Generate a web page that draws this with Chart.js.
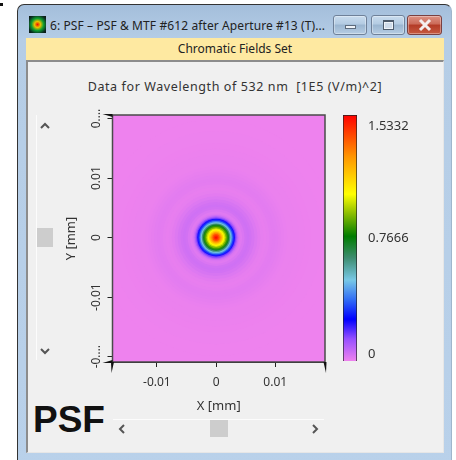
<!DOCTYPE html>
<html>
<head>
<meta charset="utf-8">
<title>PSF</title>
<script src="https://cdn.jsdelivr.net/npm/chart.js@4"></script>
<style>
html, body { margin: 0; padding: 0; background: #fff; }
body { width: 456px; height: 460px; position: relative; overflow: hidden; font-family: "Noto Sans", sans-serif; color: #333; }
.abs { position: absolute; }
#mark { left: 0; top: 3px; width: 3px; height: 3px; background: #111; }
#win { left: 17px; top: 4px; width: 435px; height: 470px; box-sizing: border-box; border: 1px solid #333; border-right-color: #9fb6cc; border-radius: 7px 7px 0 0;
  background: linear-gradient(#a4bedb 0, #b5cde6 34px, #b9d1ea 100%); }
#icon { left: 29px; top: 16px; width: 17px; height: 17px; background: radial-gradient(circle, #f01000 0, #e8c000 25%, #10a030 50%, #0a2a20 80%, #111 100%); }
#caption { left: 50px; top: 17px; font-size: 12px; letter-spacing: 0.1px; line-height: 18px; white-space: nowrap; color: #222; }
.btn { top: 15px; height: 20px; box-sizing: border-box; border: 1px solid #6f8199; border-radius: 3px; background: linear-gradient(#c9dcee 0, #b3cbe2 45%, #9ab5d0 50%, #b6cde3 100%); box-shadow: inset 0 0 0 1px rgba(255,255,255,.35); }
#btnMin { left: 333px; width: 34px; }
#btnMax { left: 371px; width: 34px; }
#btnClose { left: 407px; width: 35px; background: linear-gradient(#dd9183 0, #cb6a58 45%, #b33a26 50%, #c65a40 100%); border-color: #7a4040; }
.glyph { position: absolute; box-sizing: border-box; }
#band { left: 26px; top: 38px; width: 418px; height: 22px; background: #fee9a1; font-size: 12px; line-height: 21px; text-align: center; color: #222; }
#panel { left: 26px; top: 60px; width: 418px; height: 393px; box-sizing: border-box; background: #f0f0f0; border: 1px solid #e6e6e6; border-top: 2px solid #8c8c8c; border-left: 2px solid #8c8c8c; }
#heading { left: 26px; top: 78px; width: 418px; text-align: center; font-size: 12.5px; letter-spacing: 0.6px; line-height: 18px; white-space: pre; }
#psfTag { left: 33px; top: 399px; font-family: "Liberation Sans", sans-serif; font-weight: bold; font-size: 37px; line-height: 42px; color: #111; }
#mainWrap { left: 60px; top: 100px; width: 275px; height: 320px; }
#legendWrap { left: 343px; top: 115px; width: 80px; height: 246px; }
.rail { background: #fcfcfc; }
.thumb { background: #cdcdcd; }
svg.chev { position: absolute; overflow: visible; }
</style>
</head>
<body>
<div class="abs" id="mark"></div>
<div class="abs" id="win"></div>
<div class="abs" id="icon"></div>
<div class="abs" id="caption">6: PSF – PSF &amp; MTF #612 after Aperture #13 (T)...</div>
<div class="abs btn" id="btnMin"><div class="glyph" style="left:11px;top:9px;width:11px;height:4px;background:#eef3f8;border:1px solid #5d6b7c"></div></div>
<div class="abs btn" id="btnMax"><div class="glyph" style="left:11px;top:4px;width:11px;height:10px;border:1px solid #4d5b6c;border-top-width:2px;background:#cfdcea;box-shadow:inset 0 0 0 1px #eef3f8"></div></div>
<div class="abs btn" id="btnClose">
  <svg class="chev" style="left:10px;top:3px" width="14" height="12"><path d="M2 1 L12 11 M12 1 L2 11" stroke="#f4eeee" stroke-width="3" fill="none"/></svg>
</div>
<div class="abs" id="band">Chromatic Fields Set</div>
<div class="abs" id="panel"></div>
<div class="abs" id="heading">Data for Wavelength of 532 nm  [1E5 (V/m)^2]</div>

<div class="abs rail" style="left:36px;top:115px;width:1px;height:245px"></div>
<div class="abs thumb" style="left:37px;top:228px;width:16px;height:19px"></div>
<svg class="chev" style="left:40px;top:122px" width="10" height="8"><path d="M1 6 L5 2 L9 6" stroke="#555" stroke-width="2" fill="none"/></svg>
<svg class="chev" style="left:40px;top:347px" width="10" height="8"><path d="M1 2 L5 6 L9 2" stroke="#555" stroke-width="2" fill="none"/></svg>
<div class="abs rail" style="left:113px;top:419px;width:211px;height:1px"></div>
<div class="abs thumb" style="left:210px;top:420px;width:18px;height:17px"></div>
<svg class="chev" style="left:118px;top:424px" width="8" height="10"><path d="M6 1 L2 5 L6 9" stroke="#555" stroke-width="2" fill="none"/></svg>
<svg class="chev" style="left:311px;top:424px" width="8" height="10"><path d="M2 1 L6 5 L2 9" stroke="#555" stroke-width="2" fill="none"/></svg>

<div class="abs" id="psfTag">PSF</div>
<div class="abs" id="mainWrap"><canvas id="psfChart" width="275" height="320"></canvas></div>
<div class="abs" id="legendWrap"><canvas id="legendChart" width="80" height="246"></canvas></div>

<script>
// radial cut through the spot (mm from centre, 1E5 (V/m)^2)
const psfRadius = [0.0350, 0.0200, 0.0180, 0.0160, 0.0150, 0.0140, 0.0130, 0.0120, 0.0115, 0.0110, 0.0105, 0.0100,
    0.0095, 0.0090, 0.0085, 0.0080, 0.0075, 0.0070, 0.0065, 0.0060, 0.0056, 0.0052, 0.0048,
    0.0044, 0.0042, 0.0040, 0.0038, 0.0036, 0.0034, 0.0032, 0.0030, 0.0028, 0.0026, 0.0024,
    0.0022, 0.0020, 0.0018, 0.0016, 0.0014, 0.0012, 0.0010, 0.0008, 0.0006, 0.0004, 0.0002];
const psfValue = [0, 0, 0.001, 0.002, 0.003, 0.004, 0.004, 0.006, 0.009, 0.012, 0.015, 0.017,
    0.016, 0.012, 0.010, 0.012, 0.018, 0.026, 0.036, 0.044, 0.048, 0.044, 0.032,
    0.022, 0.024, 0.032, 0.056, 0.104, 0.161, 0.238, 0.322, 0.414, 0.521, 0.629,
    0.736, 0.828, 0.905, 0.989, 1.058, 1.135, 1.227, 1.303, 1.395, 1.457, 1.510];

const xTicks = [-0.01, 0, 0.01];
const yTicks = [-0.02, -0.01, 0, 0.01, 0.02];
const yTickLabels = ['-0.…', '-0.01', '0', '0.01', '0.…'];

const legendTicks = [0, 0.7666, 1.5332];
const legendLabels = ['0', '0.7666', '1.5332'];

const colorPos = [0, 0.09, 0.17, 0.25, 0.329, 0.42, 0.507, 0.6, 0.678, 0.83, 1];
const colorRgb = [[238, 130, 238], [150, 80, 255], [0, 0, 255], [50, 110, 245], [120, 200, 230], [60, 140, 110],
    [0, 125, 0], [140, 190, 0], [255, 255, 0], [255, 150, 0], [255, 0, 0]];

const peak = 1.5332;
const textColor = '#333';
const tickFont = { family: '"Noto Sans", sans-serif', size: 12 };
const titleFont = { family: '"Noto Sans", sans-serif', size: 13 };

function heatColor(v) {
    const f = Math.min(1, Math.max(0, v / peak));
    let i = 0;
    while (i < colorPos.length - 2 && f > colorPos[i + 1]) i++;
    const t = (f - colorPos[i]) / (colorPos[i + 1] - colorPos[i]);
    const c = colorRgb[i].map((a, k) => Math.round(a + (colorRgb[i + 1][k] - a) * t));
    return `rgb(${c[0]},${c[1]},${c[2]})`;
}

// frame and the long wedge ticks at the ends of the axes
const plotFrame = {
    id: 'plotFrame',
    afterDatasetsDraw(chart) {
        const { ctx, chartArea: a } = chart;
        ctx.save();
        ctx.strokeStyle = '#4a4a4a';
        ctx.lineWidth = 1.5;
        ctx.strokeRect(a.left, a.top, a.right - a.left, a.bottom - a.top);
        ctx.fillStyle = '#111';
        const wedge = (x0, y0, x1, y1, x2, y2) => {
            ctx.beginPath();
            ctx.moveTo(x0, y0);
            ctx.lineTo(x1, y1);
            ctx.lineTo(x2, y2);
            ctx.fill();
        };
        wedge(a.left - 10, a.top - 1, a.left, a.top - 1, a.left, a.top + 2);
        wedge(a.left - 10, a.bottom + 1, a.left, a.bottom + 1, a.left, a.bottom - 2);
        wedge(a.left - 1.5, a.bottom, a.left + 1.5, a.bottom, a.left - 1, a.bottom + 11);
        wedge(a.right - 1.5, a.bottom, a.right + 1.5, a.bottom, a.right + 1, a.bottom + 11);
        ctx.restore();
    },
};

const fixedTicks = values => scale => {
    scale.ticks = values.map(v => ({ value: v }));
};

new Chart(document.getElementById('psfChart').getContext('2d'), {
    type: 'scatter',
    data: {
        datasets: [{
            data: psfRadius.map(() => ({ x: 0, y: 0 })),
            pointStyle: 'circle',
            borderWidth: 0,
            pointBorderWidth: 0,
            // each sample is a disc, outermost first, sized through the x scale
            pointRadius: ctx => {
                const sx = ctx.chart.scales.x;
                return sx.getPixelForValue(psfRadius[ctx.dataIndex]) - sx.getPixelForValue(0);
            },
            backgroundColor: ctx => heatColor(psfValue[ctx.dataIndex]),
        }],
    },
    options: {
        responsive: false,
        animation: false,
        events: [],
        layout: { padding: { top: 15, right: 10, left: 0, bottom: 0 } },
        plugins: { legend: { display: false }, tooltip: { enabled: false } },
        scales: {
            x: {
                type: 'linear',
                min: -0.0175,
                max: 0.0184,
                afterBuildTicks: fixedTicks(xTicks),
                afterFit: s => { s.height = 58; },
                grid: { drawOnChartArea: false, color: '#222', tickLength: 5 },
                border: { color: '#222' },
                ticks: { font: tickFont, color: textColor, padding: 8, maxRotation: 0, callback: v => String(v) },
                title: { display: true, text: 'X [mm]', font: titleFont, color: textColor, padding: { top: 0, bottom: 6 } },
            },
            y: {
                type: 'linear',
                min: -0.0209,
                max: 0.0206,
                afterBuildTicks: fixedTicks(yTicks),
                afterFit: s => { s.width = 52.5; },
                grid: { drawOnChartArea: false, color: '#222', tickLength: 5 },
                border: { color: '#222' },
                ticks: {
                    font: tickFont,
                    color: textColor,
                    minRotation: 90,
                    maxRotation: 90,
                    padding: -3,
                    crossAlign: 'center',
                    callback: (v, i) => yTickLabels[i],
                },
                title: { display: true, text: 'Y [mm]', font: titleFont, color: textColor, padding: { top: 3, bottom: 0 } },
            },
        },
    },
    plugins: [plotFrame],
});

// colour bar: one bar from 0 to the peak, its labels kept inside the bar's height
const legendText = {
    id: 'legendText',
    afterDraw(chart) {
        const { ctx, chartArea: a, scales } = chart;
        ctx.save();
        ctx.fillStyle = textColor;
        ctx.font = '13px "Noto Sans", sans-serif';
        ctx.textBaseline = 'middle';
        legendTicks.forEach((v, i) => {
            const py = Math.min(a.bottom - 7, Math.max(a.top + 11, scales.y.getPixelForValue(v)));
            ctx.fillText(legendLabels[i], a.right + 11, py);
        });
        ctx.restore();
    },
};

new Chart(document.getElementById('legendChart').getContext('2d'), {
    type: 'bar',
    data: {
        labels: ['scale'],
        datasets: [{
            data: [peak],
            barPercentage: 1,
            categoryPercentage: 1,
            borderWidth: 1,
            borderColor: '#222',
            backgroundColor: ctx => {
                const a = ctx.chart.chartArea;
                if (!a) return colorRgb[0];
                const g = ctx.chart.ctx.createLinearGradient(0, a.bottom, 0, a.top);
                colorPos.forEach((p, i) => g.addColorStop(p, `rgb(${colorRgb[i].join(',')})`));
                return g;
            },
        }],
    },
    options: {
        responsive: false,
        animation: false,
        events: [],
        layout: { padding: { right: 66, top: 0, bottom: 0, left: 0 } },
        plugins: { legend: { display: false }, tooltip: { enabled: false } },
        scales: {
            x: { display: false },
            y: { display: false, min: 0, max: peak },
        },
    },
    plugins: [legendText],
});
</script>
</body>
</html>
